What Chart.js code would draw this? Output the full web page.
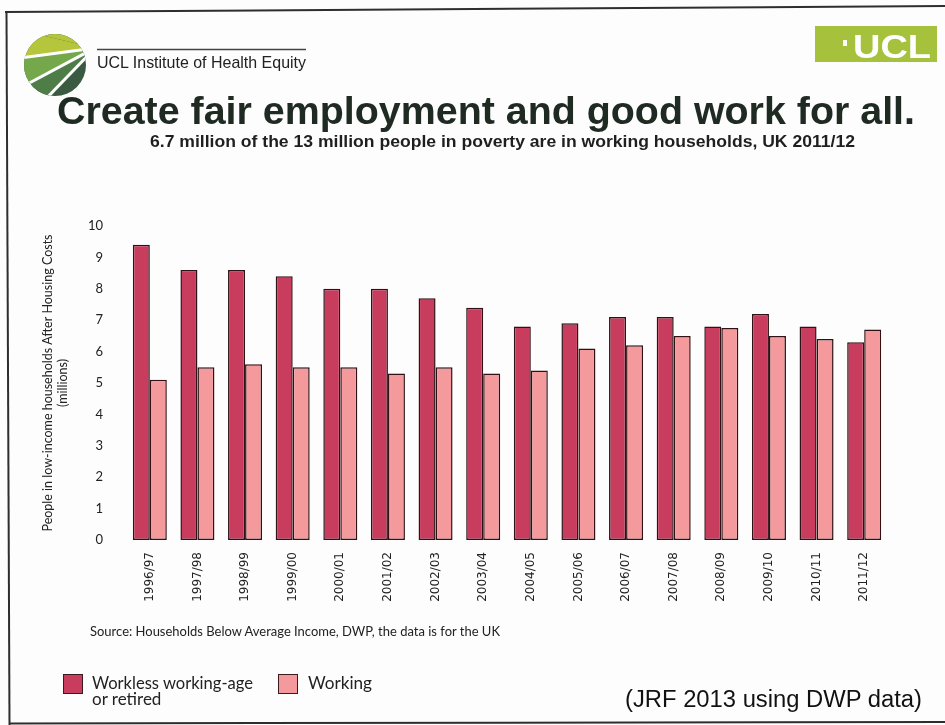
<!DOCTYPE html>
<html>
<head>
<meta charset="utf-8">
<script src="https://cdn.jsdelivr.net/npm/chart.js@4"></script>
<style>
  body { margin: 0; background: #fff; }
  #page { position: relative; width: 945px; height: 725px; overflow: hidden; background: #fdfdfd; }
  #chartCanvas { position: absolute; left: 0; top: 0; }
  .txt { position: absolute; white-space: nowrap; transform-origin: 0 0; }
  .fit { display: inline-block; }
</style>
</head>
<body>
<div id="page">
  <canvas id="chartCanvas" width="945" height="725"></canvas>

  <!-- scan frame -->
  <svg width="945" height="725" style="position:absolute;left:0;top:0">
    <line x1="5" y1="12" x2="945" y2="6" stroke="#2e2e2e" stroke-width="2"/>
    <line x1="6.5" y1="12" x2="9.5" y2="725" stroke="#2e2e2e" stroke-width="2"/>
    <line x1="9" y1="723.5" x2="945" y2="722" stroke="#2e2e2e" stroke-width="2"/>
    <!-- IHE logo -->
    <defs><clipPath id="circ"><circle cx="55" cy="65" r="31"/></clipPath></defs>
    <g clip-path="url(#circ)">
      <rect x="20" y="30" width="75" height="75" fill="#3b5a42"/>
      <polygon points="95,48 20,30 95,30" fill="#b5c63d"/>
      <polygon points="95,48 20,30 20,58" fill="#b5c63d"/>
      <polygon points="95,48 20,58 20,88" fill="#74a84a"/>
      <polygon points="95,48 20,88 20,105 40,105" fill="#4e7d48"/>
      <line x1="95" y1="48" x2="20" y2="58" stroke="#fff" stroke-width="3"/>
      <line x1="95" y1="48" x2="20" y2="88" stroke="#fff" stroke-width="3"/>
      <line x1="95" y1="48" x2="40" y2="105" stroke="#fff" stroke-width="3"/>
    </g>
    <line x1="97" y1="49.5" x2="306" y2="49.5" stroke="#444" stroke-width="1.5"/>
    <!-- UCL box -->
    <rect x="815" y="26" width="122" height="36" fill="#a6c23c"/>
    <rect x="843" y="40" width="4" height="6" fill="#fff"/>
  </svg>

  <div class="txt" style="left:97px;top:53px;font:17px 'Liberation Sans',Arial;color:#222"><span class="fit" data-w="209">UCL Institute of Health Equity</span></div>
  <div class="txt" style="left:853px;top:29px;font:bold 34px 'Liberation Sans',Arial;color:#fff;line-height:34px"><span class="fit" data-w="78">UCL</span></div>

  <div class="txt" style="left:57px;top:91px;font:bold 39px 'Liberation Sans',Arial;color:#1f2a23;line-height:39px"><span class="fit" data-w="858">Create fair employment and good work for all.</span></div>
  <div class="txt" style="left:150px;top:134px;font:bold 16px 'Liberation Sans',Arial;color:#1f1f1f;line-height:16px"><span class="fit" data-w="705">6.7 million of the 13 million people in poverty are in working households, UK 2011/12</span></div>

  <div class="txt" style="left:90px;top:625px;font:12.5px Lato;color:#222;line-height:14px"><span class="fit" data-w="410">Source: Households Below Average Income, DWP, the data is for the UK</span></div>

  <!-- legend -->
  <div style="position:absolute;left:63px;top:674px;width:18px;height:18px;background:#c83d5e;border:1px solid #3a1a1e"></div>
  <div class="txt" style="left:92px;top:675px;font:17px Lato;color:#222;line-height:16px"><span class="fit" data-w="161">Workless working-age</span><br>or retired</div>
  <div style="position:absolute;left:278px;top:674px;width:18px;height:18px;background:#f59a9c;border:1px solid #3a1a1e"></div>
  <div class="txt" style="left:308px;top:675px;font:17px Lato;color:#222;line-height:16px"><span class="fit" data-w="64">Working</span></div>

  <div class="txt" style="left:625px;top:688px;font:23px 'Liberation Sans',Arial;color:#111;line-height:23px"><span class="fit" data-w="297">(JRF 2013 using DWP data)</span></div>
</div>

<script>
// squeeze text spans to the widths seen in the scan
document.querySelectorAll('.fit').forEach(function(el) {
    const target = parseFloat(el.dataset.w);
    const w = el.getBoundingClientRect().width;
    el.style.transformOrigin = '0 0';
    el.style.transform = 'scaleX(' + (target / w) + ')';
});

// People in low-income households AHC (millions)
const years = ['1996/97', '1997/98', '1998/99', '1999/00', '2000/01', '2001/02', '2002/03', '2003/04',
               '2004/05', '2005/06', '2006/07', '2007/08', '2008/09', '2009/10', '2010/11', '2011/12'];
const workless = [9.4, 8.6, 8.6, 8.4, 8.0, 8.0, 7.7, 7.4, 6.8, 6.9, 7.1, 7.1, 6.8, 7.2, 6.8, 6.3];
const working = [5.1, 5.5, 5.6, 5.5, 5.5, 5.3, 5.5, 5.3, 5.4, 6.1, 6.2, 6.5, 6.75, 6.5, 6.4, 6.7];
const yTicks = [0, 1, 2, 3, 4, 5, 6, 7, 8, 9, 10];

Chart.defaults.font.family = 'Lato';
Chart.defaults.color = '#222';

const ctx = document.getElementById('chartCanvas').getContext('2d');
new Chart(ctx, {
    type: 'bar',
    data: {
        labels: years,
        datasets: [{
            label: 'Workless working-age or retired',
            data: workless,
            backgroundColor: '#c83d5e',
            borderColor: '#2e1216',
            borderWidth: 1.5,
            borderSkipped: false
        }, {
            label: 'Working',
            data: working,
            backgroundColor: '#f59a9c',
            borderColor: '#2e1216',
            borderWidth: 1.5,
            borderSkipped: false
        }]
    },
    options: {
        responsive: false,
        animation: false,
        layout: { padding: { left: 0, top: 226, right: 57, bottom: 0 } },
        datasets: { bar: { categoryPercentage: 0.714, barPercentage: 1.0 } },
        plugins: { legend: { display: false }, tooltip: { enabled: false } },
        scales: {
            x: {
                grid: { display: false, drawTicks: false },
                border: { display: false },
                ticks: {
                    font: { family: 'DejaVu Sans', size: 12 },
                    color: '#222',
                    minRotation: 90, maxRotation: 90,
                    autoSkip: false,
                    padding: 12
                },
                afterFit: function(scale) { scale.height = 185; }
            },
            y: {
                min: 0, max: 10,
                grid: { display: false, drawTicks: false },
                border: { display: false },
                afterBuildTicks: function(scale) {
                    scale.ticks = yTicks.map(function(v) { return { value: v }; });
                },
                ticks: { font: { size: 13 }, padding: 23, color: '#222' },
                title: {
                    display: true,
                    text: ['People in low-income households After Housing Costs', '(millions)'],
                    font: { size: 12.5 },
                    color: '#222',
                    padding: { top: 40, bottom: 0 }
                },
                afterFit: function(scale) { scale.width = 126; }
            }
        }
    }
});
</script>
</body>
</html>
